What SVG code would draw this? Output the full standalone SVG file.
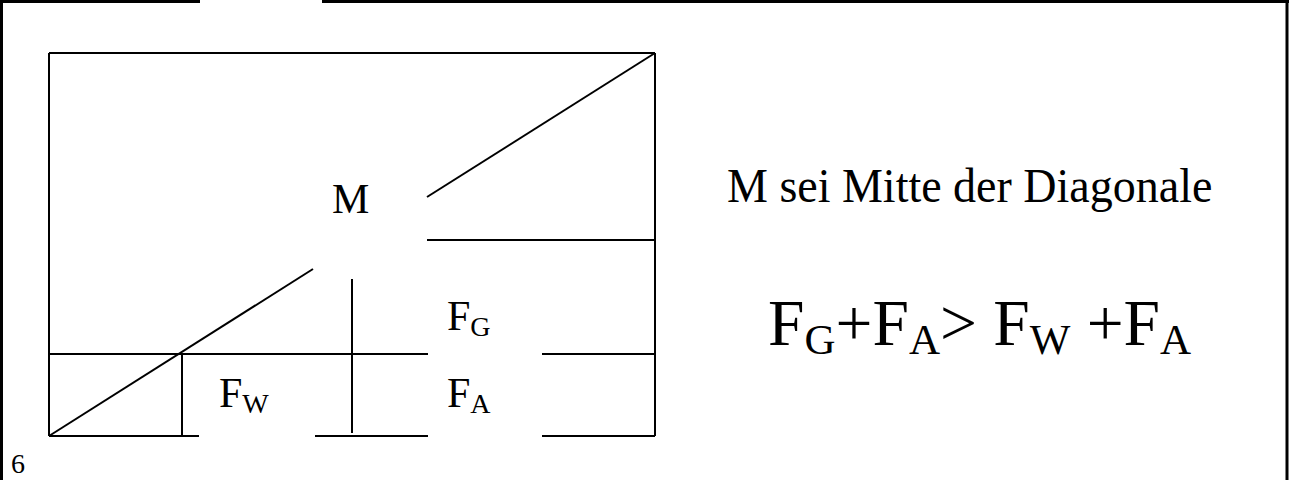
<svg xmlns="http://www.w3.org/2000/svg" width="1289" height="480" viewBox="0 0 1289 480">
<style>
.ln{stroke:#000;stroke-width:2;fill:none}
.fr{stroke:#000;stroke-width:3;fill:none}
text{font-family:"Liberation Serif","Times New Roman",serif;fill:#000}
.lb{font-size:42px}
.sb{font-size:28px}
.fm{font-size:65.5px}
.fs{font-size:43px}
</style>
<rect width="1289" height="480" fill="#fff"/>
<g id="frame">
<line class="fr" x1="0" y1="1.5" x2="200" y2="1.5"/>
<line class="fr" x1="322" y1="1.5" x2="1289" y2="1.5"/>
<line class="fr" x1="1.5" y1="0" x2="1.5" y2="480"/>
<line class="fr" x1="1287" y1="0" x2="1287" y2="480"/>
</g>
<g id="connectors">
<line class="ln" x1="49" y1="53" x2="655" y2="53"/>
<line class="ln" x1="49" y1="53" x2="49" y2="436"/>
<line class="ln" x1="655" y1="53" x2="655" y2="436"/>
<line class="ln" x1="49" y1="436" x2="199" y2="436"/>
<line class="ln" x1="315" y1="436" x2="428" y2="436"/>
<line class="ln" x1="542" y1="436" x2="655" y2="436"/>
<line class="ln" x1="49" y1="354" x2="428" y2="354"/>
<line class="ln" x1="542" y1="354" x2="655" y2="354"/>
<line class="ln" x1="427" y1="240" x2="655" y2="240"/>
<line class="ln" x1="49" y1="436" x2="313" y2="269"/>
<line class="ln" x1="427" y1="197" x2="655" y2="53"/>
<line class="ln" x1="182" y1="354" x2="182" y2="436"/>
<line class="ln" x1="352" y1="279" x2="352" y2="433"/>
</g>
<g id="label-M"><text class="lb" x="332" y="213">M</text></g>
<g id="label-FG"><text class="lb" x="447" y="330">F<tspan class="sb" dy="6">G</tspan></text></g>
<g id="label-FA"><text class="lb" x="447" y="407">F<tspan class="sb" dy="6">A</tspan></text></g>
<g id="label-FW"><text class="lb" x="219" y="407">F<tspan class="sb" dy="6">W</tspan></text></g>
<g id="page-number"><text x="11" y="473" style="font-size:28px">6</text></g>
<g id="caption"><text x="727" y="202" style="font-size:46px" transform="translate(0,202) scale(1,1.06) translate(0,-202)">M sei Mitte der Diagonale</text></g>
<g id="formula"><text class="fm" x="768" y="345">F<tspan class="fs" dy="9">G</tspan><tspan dy="-9">+F</tspan><tspan class="fs" dy="9">A</tspan><tspan dy="-9">&gt; F</tspan><tspan class="fs" dy="9">W</tspan><tspan dy="-9"> +F</tspan><tspan class="fs" dy="9">A</tspan></text></g>
</svg>
